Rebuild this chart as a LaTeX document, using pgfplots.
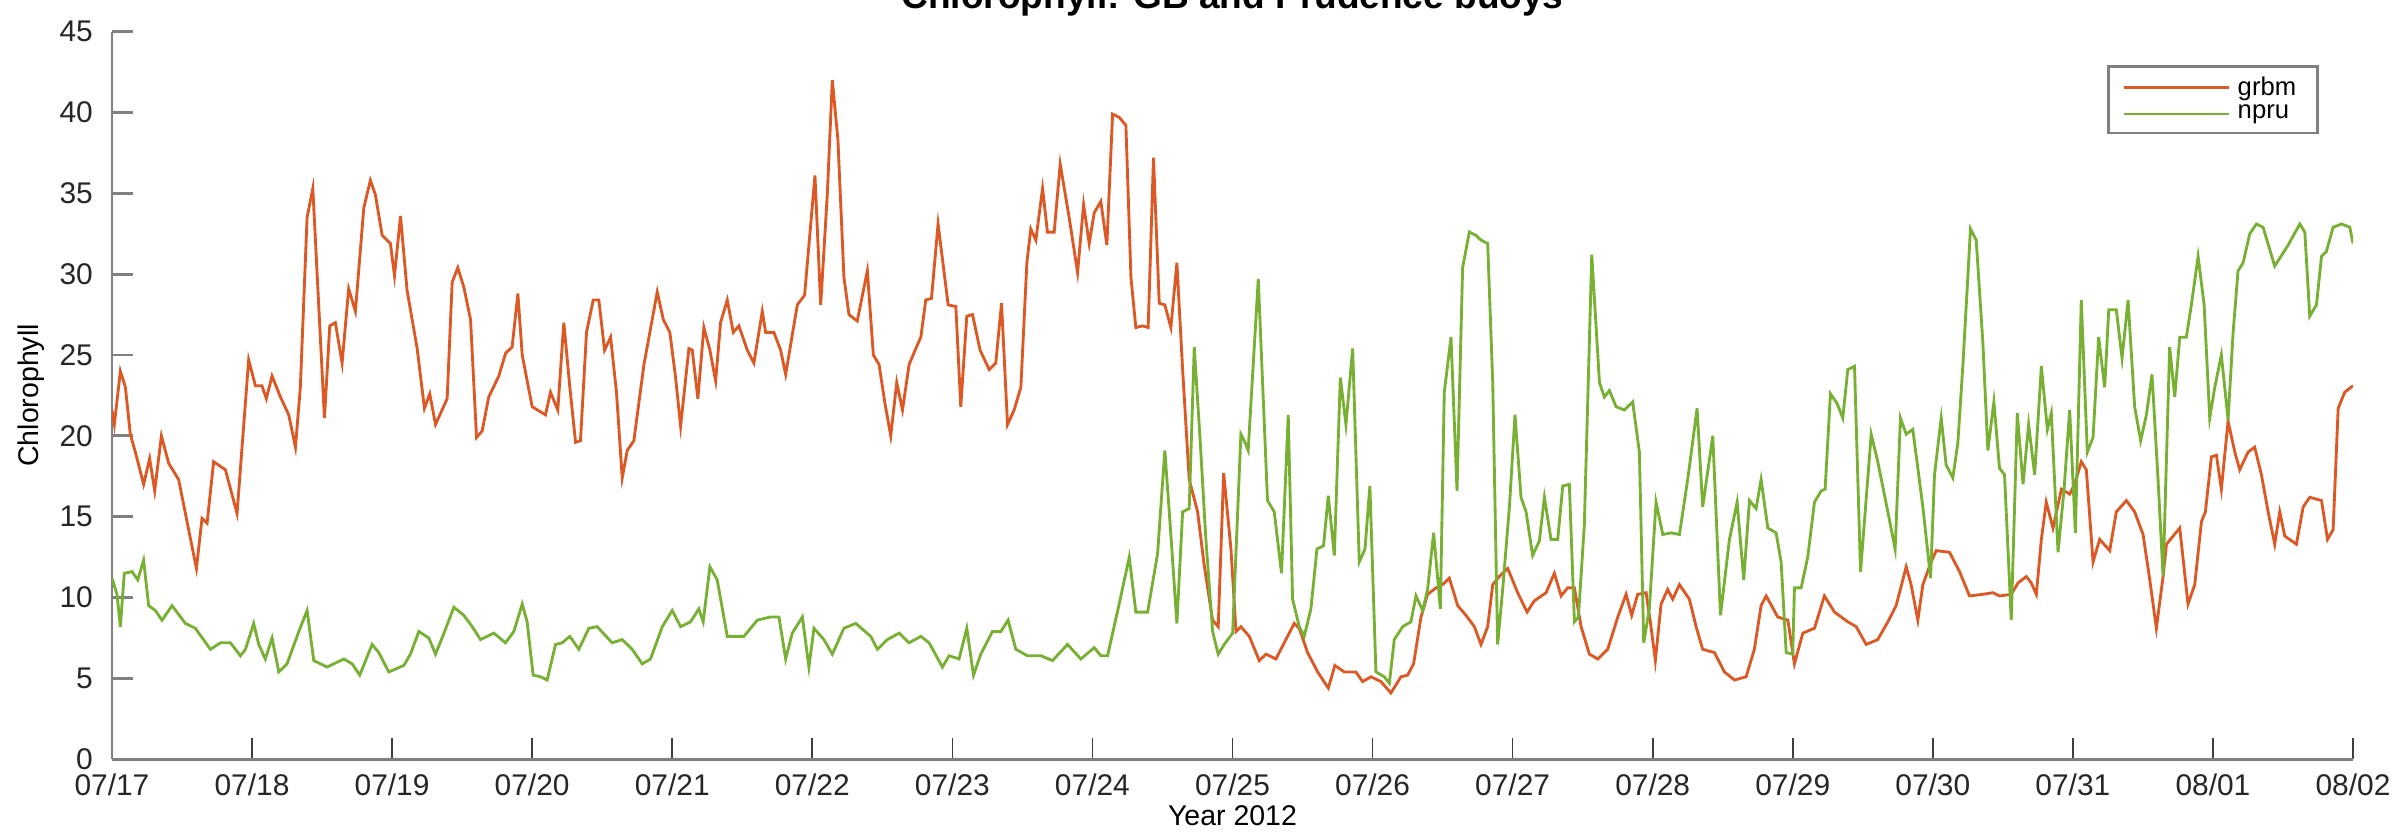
\documentclass[border=0pt]{standalone}
\usepackage{fontspec}
\setmainfont{Liberation Sans}
\usepackage{pgfplots}
\pgfplotsset{compat=1.18}
\usepackage{pgfplotstable}

\definecolor{grbmc}{RGB}{220,88,36}
\definecolor{npruc}{RGB}{120,176,52}

% day index from 07/17 00:00, chlorophyll
\pgfplotstableread{
d v
0.000 21.6
0.017 20.7
0.060 24.0
0.096 23.0
0.131 20.1
0.167 19.0
0.226 17.0
0.269 18.6
0.305 16.6
0.353 20.0
0.405 18.3
0.476 17.3
0.536 14.7
0.603 11.8
0.643 14.9
0.679 14.6
0.726 18.4
0.810 17.9
0.893 15.2
0.976 24.7
1.024 23.1
1.071 23.1
1.102 22.3
1.143 23.7
1.203 22.4
1.262 21.3
1.310 19.3
1.345 23.0
1.393 33.5
1.434 35.3
1.476 28.1
1.517 21.1
1.555 26.8
1.595 27.0
1.643 24.5
1.690 29.1
1.738 27.7
1.798 34.1
1.845 35.8
1.881 34.9
1.929 32.4
1.988 31.9
2.017 29.9
2.060 33.6
2.107 29.0
2.179 25.4
2.231 21.7
2.269 22.6
2.310 20.7
2.393 22.3
2.429 29.5
2.469 30.4
2.512 29.2
2.560 27.2
2.603 19.9
2.643 20.3
2.690 22.4
2.762 23.7
2.810 25.1
2.857 25.5
2.898 28.8
2.929 25.0
3.000 21.8
3.095 21.3
3.131 22.7
3.183 21.6
3.226 27.0
3.269 23.0
3.310 19.6
3.345 19.7
3.388 26.4
3.436 28.4
3.476 28.4
3.517 25.3
3.560 26.1
3.602 22.7
3.643 17.4
3.679 19.1
3.726 19.7
3.798 24.4
3.893 28.9
3.936 27.2
3.983 26.4
4.024 23.6
4.060 20.6
4.119 25.4
4.143 25.3
4.183 22.3
4.226 26.7
4.269 25.3
4.310 23.4
4.345 27.0
4.393 28.4
4.436 26.4
4.476 26.8
4.536 25.3
4.583 24.5
4.643 27.7
4.667 26.4
4.726 26.4
4.774 25.3
4.810 23.8
4.893 28.1
4.945 28.7
5.019 36.1
5.060 28.1
5.107 34.9
5.143 42.0
5.183 38.3
5.226 29.8
5.262 27.5
5.321 27.1
5.393 30.2
5.436 25.0
5.477 24.4
5.517 22.1
5.560 20.0
5.603 23.3
5.644 21.6
5.691 24.4
5.739 25.4
5.775 26.1
5.810 28.4
5.851 28.5
5.898 33.1
5.970 28.1
6.025 28.0
6.060 21.8
6.103 27.4
6.144 27.5
6.198 25.3
6.263 24.1
6.310 24.5
6.351 28.2
6.394 20.7
6.441 21.6
6.489 23.0
6.532 30.7
6.560 32.8
6.596 32.1
6.644 35.3
6.679 32.6
6.727 32.6
6.770 36.8
6.834 33.5
6.894 30.1
6.937 34.3
6.977 31.9
7.013 33.8
7.060 34.5
7.103 31.8
7.144 39.9
7.191 39.7
7.239 39.2
7.275 29.8
7.310 26.7
7.358 26.8
7.398 26.7
7.436 37.2
7.477 28.2
7.517 28.1
7.560 26.7
7.603 30.7
7.644 24.1
7.691 17.3
7.751 15.3
7.798 12.0
7.858 8.6
7.898 8.2
7.937 17.7
7.989 13.0
8.025 7.9
8.060 8.2
8.120 7.6
8.191 6.1
8.239 6.5
8.310 6.2
8.381 7.4
8.441 8.4
8.477 8.1
8.536 6.6
8.608 5.4
8.684 4.4
8.731 5.8
8.798 5.4
8.881 5.4
8.929 4.8
8.989 5.1
9.060 4.8
9.131 4.1
9.203 5.1
9.250 5.2
9.293 5.9
9.346 8.8
9.393 10.2
9.453 10.6
9.500 10.8
9.548 11.2
9.608 9.5
9.667 8.9
9.727 8.2
9.774 7.1
9.822 8.2
9.858 10.8
9.905 11.3
9.965 11.8
10.036 10.3
10.103 9.1
10.155 9.8
10.239 10.3
10.298 11.5
10.346 10.1
10.393 10.6
10.441 10.6
10.489 8.2
10.548 6.5
10.608 6.2
10.679 6.8
10.751 8.8
10.810 10.2
10.850 8.9
10.893 10.2
10.953 10.3
10.988 8.2
11.019 6.1
11.060 9.6
11.107 10.5
11.143 9.9
11.191 10.8
11.262 9.9
11.310 8.2
11.357 6.8
11.441 6.6
11.512 5.4
11.584 4.9
11.667 5.1
11.726 6.8
11.774 9.5
11.810 10.1
11.893 8.8
11.965 8.6
12.012 5.9
12.072 7.8
12.155 8.1
12.226 10.1
12.298 9.1
12.393 8.5
12.453 8.2
12.524 7.1
12.607 7.4
12.679 8.5
12.738 9.5
12.810 11.9
12.845 10.8
12.893 8.6
12.929 10.8
12.988 12.2
13.024 12.9
13.119 12.8
13.191 11.6
13.262 10.1
13.357 10.2
13.429 10.3
13.476 10.1
13.560 10.2
13.608 10.9
13.668 11.3
13.703 10.9
13.739 10.2
13.775 13.6
13.810 15.9
13.858 14.3
13.918 16.7
13.977 16.4
14.013 17.0
14.060 18.4
14.096 17.9
14.144 12.2
14.191 13.6
14.263 12.9
14.310 15.3
14.382 16.0
14.441 15.3
14.501 13.9
14.549 11.1
14.596 8.1
14.644 11.3
14.668 13.3
14.763 14.3
14.822 9.6
14.870 10.8
14.918 14.7
14.946 15.3
14.989 18.7
15.025 18.8
15.060 16.7
15.108 20.9
15.156 19.0
15.191 17.9
15.251 19.0
15.298 19.3
15.346 17.6
15.394 15.3
15.441 13.3
15.477 15.3
15.513 13.8
15.596 13.3
15.644 15.6
15.691 16.2
15.775 16.0
15.818 13.6
15.858 14.2
15.894 21.7
15.941 22.7
16.000 23.1
}\grbm

\pgfplotstableread{
d v
0.000 11.2
0.036 10.2
0.060 8.2
0.088 11.5
0.143 11.6
0.184 11.1
0.226 12.3
0.262 9.5
0.310 9.2
0.357 8.6
0.429 9.5
0.524 8.4
0.595 8.1
0.703 6.8
0.774 7.2
0.846 7.2
0.917 6.4
0.953 6.8
1.012 8.4
1.048 7.1
1.095 6.2
1.143 7.5
1.191 5.4
1.250 5.9
1.334 7.9
1.393 9.2
1.441 6.1
1.536 5.7
1.655 6.2
1.715 5.9
1.769 5.2
1.857 7.1
1.905 6.6
1.976 5.4
2.084 5.8
2.131 6.5
2.191 7.9
2.262 7.5
2.310 6.5
2.357 7.5
2.441 9.4
2.512 8.9
2.572 8.2
2.631 7.4
2.726 7.8
2.810 7.2
2.869 7.9
2.929 9.6
2.964 8.5
3.007 5.2
3.060 5.1
3.107 4.9
3.167 7.1
3.214 7.2
3.269 7.6
3.333 6.8
3.405 8.1
3.464 8.2
3.571 7.2
3.643 7.4
3.714 6.8
3.786 5.9
3.845 6.2
3.929 8.2
4.000 9.2
4.060 8.2
4.131 8.5
4.190 9.3
4.221 8.5
4.269 11.9
4.321 11.1
4.393 7.6
4.512 7.6
4.607 8.6
4.702 8.8
4.762 8.8
4.810 6.2
4.857 7.8
4.929 8.8
4.976 5.7
5.012 8.1
5.083 7.4
5.143 6.5
5.226 8.1
5.310 8.4
5.417 7.6
5.465 6.8
5.536 7.4
5.620 7.8
5.691 7.2
5.775 7.6
5.834 7.2
5.929 5.7
5.977 6.4
6.048 6.2
6.103 8.1
6.151 5.2
6.203 6.5
6.286 7.9
6.346 7.9
6.398 8.6
6.453 6.8
6.536 6.4
6.632 6.4
6.715 6.1
6.822 7.1
6.917 6.2
7.013 6.9
7.060 6.4
7.108 6.4
7.191 9.6
7.263 12.5
7.310 9.1
7.394 9.1
7.465 12.7
7.517 19.1
7.560 13.9
7.603 8.4
7.644 15.3
7.691 15.5
7.727 25.5
7.770 19.6
7.810 13.6
7.858 7.9
7.898 6.5
7.941 7.1
8.001 7.8
8.060 20.1
8.084 19.7
8.112 19.1
8.184 29.7
8.250 16.0
8.298 15.3
8.350 11.5
8.398 21.3
8.429 9.9
8.477 8.2
8.512 7.6
8.560 9.3
8.603 13.0
8.650 13.2
8.684 16.3
8.727 12.6
8.770 23.6
8.810 20.7
8.858 25.4
8.905 12.2
8.946 13.0
8.981 16.9
9.024 5.4
9.084 5.1
9.120 4.7
9.155 7.4
9.215 8.2
9.274 8.5
9.310 10.1
9.358 9.2
9.393 10.5
9.436 14.0
9.484 9.3
9.512 22.7
9.560 26.1
9.603 16.6
9.643 30.4
9.691 32.6
9.739 32.4
9.774 32.1
9.822 31.9
9.858 23.3
9.893 7.1
9.929 10.5
9.977 15.6
10.017 21.3
10.060 16.2
10.096 15.3
10.143 12.6
10.191 13.5
10.227 16.2
10.274 13.6
10.322 13.6
10.358 16.9
10.405 17.0
10.441 8.5
10.470 8.8
10.512 14.5
10.565 31.2
10.620 23.3
10.655 22.4
10.691 22.8
10.739 21.8
10.798 21.6
10.857 22.1
10.905 19.0
10.936 7.2
10.976 9.3
11.024 15.9
11.072 13.9
11.131 14.0
11.191 13.9
11.250 17.3
11.317 21.7
11.357 15.6
11.429 20.0
11.484 8.9
11.548 13.6
11.603 15.9
11.650 11.1
11.691 16.0
11.738 15.5
11.774 17.3
11.822 14.3
11.881 14.0
11.917 12.2
11.953 6.6
12.000 6.5
12.012 10.6
12.060 10.6
12.107 12.5
12.155 15.9
12.203 16.6
12.231 16.7
12.269 22.6
12.317 22.0
12.357 21.1
12.393 24.1
12.441 24.3
12.484 11.6
12.560 20.1
12.607 18.4
12.679 15.3
12.731 13.0
12.769 21.1
12.810 20.1
12.857 20.4
12.929 15.6
12.984 11.2
13.012 17.6
13.060 21.1
13.095 18.2
13.143 17.4
13.179 19.6
13.215 24.4
13.269 32.8
13.310 32.1
13.357 25.8
13.393 19.1
13.436 22.1
13.476 18.0
13.512 17.6
13.560 8.6
13.603 21.4
13.644 17.0
13.684 20.7
13.727 17.6
13.775 24.3
13.818 20.4
13.846 21.4
13.894 12.8
13.937 16.7
13.977 21.6
14.018 14.0
14.060 28.4
14.103 19.0
14.144 19.9
14.184 26.1
14.227 23.0
14.256 27.8
14.310 27.8
14.351 24.8
14.394 28.4
14.441 21.8
14.484 19.7
14.525 21.3
14.565 23.8
14.608 17.3
14.644 11.3
14.691 25.5
14.727 22.4
14.763 26.1
14.810 26.1
14.846 28.1
14.894 31.1
14.937 28.1
14.977 21.1
15.013 23.0
15.060 25.0
15.108 21.0
15.144 26.4
15.179 30.2
15.215 30.7
15.263 32.5
15.310 33.1
15.358 32.9
15.441 30.5
15.537 31.8
15.620 33.1
15.656 32.6
15.691 27.4
15.739 28.1
15.775 31.1
15.810 31.4
15.858 32.9
15.918 33.1
15.977 32.9
16.000 31.9
}\npru

\begin{document}
\begin{tikzpicture}
\begin{axis}[
    name=ax,
    scale only axis,
    width=786.6pt, height=255.4pt,
    xmin=0, xmax=16,
    ymin=0, ymax=45,
    axis lines*=left,
    axis line style={draw=black!50, line width=1pt},
    tick align=inside,
    major tick length=7.5pt,
    xtick style={draw=black!75, line width=0.6pt},
    ytick style={draw=black!50, line width=1pt},
    xtick={0,1,...,16},
    xticklabels={07/17,07/18,07/19,07/20,07/21,07/22,07/23,07/24,07/25,07/26,07/27,07/28,07/29,07/30,07/31,08/01,08/02},
    ytick={0,5,...,45},
    /pgf/number format/assume math mode=true,
    tick label style={font=\fontsize{10.5}{12}\selectfont, text=black!85},
    xticklabel style={anchor=base, inner sep=0pt, yshift=-12.8pt},
    yticklabel style={anchor=east, inner sep=0pt, xshift=-6.5pt},
    xlabel={Year 2012},
    ylabel={Chlorophyll},
    label style={font=\fontsize{11}{13}\selectfont, text=black!85},
    every axis x label/.style={at={(axis description cs:0.5,-0.0907)}, anchor=base},
    every axis y label/.style={at={(axis description cs:-0.0361,0.5)}, rotate=90, anchor=center},
    title={Chlorophyll: GB and Prudence buoys},
    title style={at={(axis description cs:0.5,1)}, anchor=base, yshift=2.2pt, font=\bfseries\fontsize{13}{15}\selectfont},
    legend style={at={(axis description cs:0.9848,0.954)}, anchor=north east,
        draw=black!50, line width=1pt, font=\fontsize{9}{10}\selectfont,
        inner xsep=5pt, inner ysep=2.5pt, row sep=0pt,
        nodes={inner xsep=2.5pt, inner ysep=1pt}},
    legend cell align=left,
    legend image code/.code={\draw[#1, line width=1pt] (0pt,0pt) -- (37pt,0pt);},
]
\addplot[color=grbmc, line width=1pt] table[x=d, y=v] {\grbm};
\addplot[color=npruc, line width=1pt] table[x=d, y=v] {\npru};
\legend{grbm, npru}
\end{axis}
\pgfresetboundingbox
\useasboundingbox ([xshift=-39.3pt,yshift=-26.3pt]ax.south west) rectangle ([xshift=17.9pt,yshift=11.1pt]ax.north east);
\end{tikzpicture}
\end{document}
